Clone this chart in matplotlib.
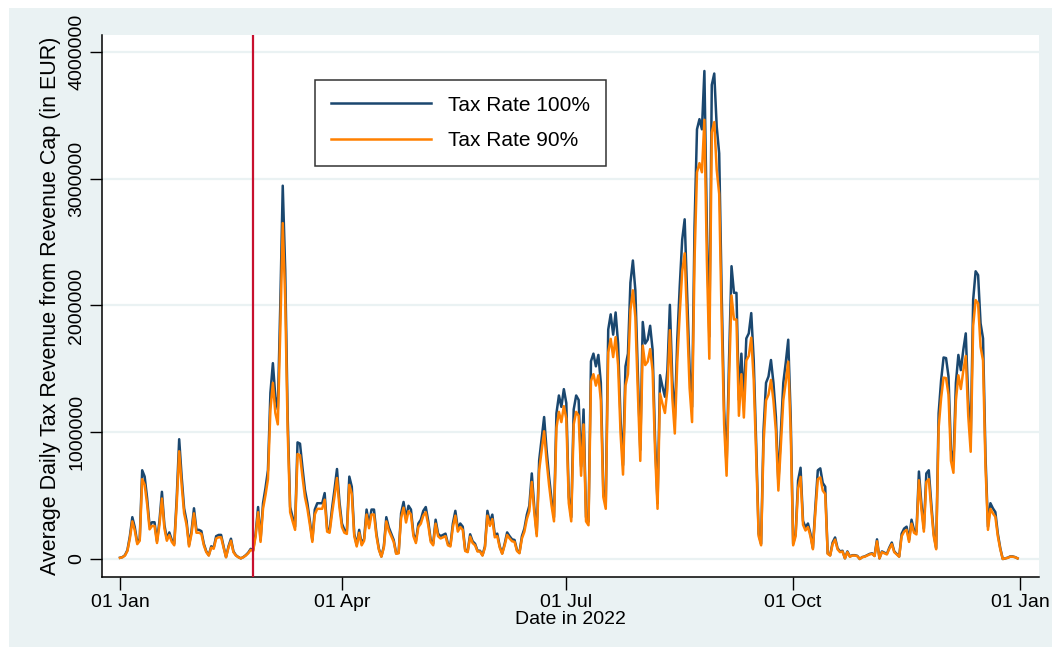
import matplotlib

matplotlib.use("Agg")
import matplotlib.dates as mdates
import matplotlib.pyplot as plt
import pandas as pd
from matplotlib.patches import Rectangle

# daily revenue, thousands of EUR, 1 Jan .. 31 Dec 2022
rate_100 = [
    10, 15, 30, 70, 180, 330, 250, 130, 160, 700,             # 0
    650, 480, 260, 290, 290, 140, 300, 530, 270, 160,        # 10
    210, 150, 120, 480, 945, 650, 400, 300, 110, 220,        # 20
    400, 230, 230, 220, 120, 60, 30, 100, 90, 180,           # 30
    190, 190, 100, 15, 100, 160, 60, 30, 15, 5,              # 40
    15, 30, 50, 80, 70, 200, 410, 150, 440, 560,             # 50
    700, 1310, 1545, 1280, 1180, 2000, 2945, 2280, 1120, 410,  # 60
    330, 255, 920, 910, 720, 545, 440, 300, 150, 390,        # 70
    440, 440, 440, 520, 240, 230, 400, 550, 710, 450,        # 80
    280, 230, 220, 650, 570, 200, 110, 230, 120, 160,        # 90
    390, 270, 390, 390, 200, 80, 20, 100, 330, 250,          # 100
    200, 150, 45, 50, 360, 450, 320, 420, 390, 200,          # 110
    140, 280, 310, 380, 410, 300, 150, 120, 310, 200,        # 120
    180, 190, 200, 120, 110, 280, 380, 240, 280, 255,        # 130
    70, 60, 195, 140, 120, 65, 65, 30, 100, 380,             # 140
    290, 350, 190, 200, 100, 45, 120, 210, 180, 155,         # 150
    150, 70, 50, 180, 240, 350, 420, 675, 410, 200,          # 160
    780, 950, 1120, 860, 650, 470, 330, 1150, 1290, 1200,    # 170
    1340, 1230, 490, 330, 1180, 1290, 1255, 730, 1180, 330,  # 180
    295, 1560, 1620, 1520, 1610, 1390, 545, 440, 1810, 1930,  # 190
    1770, 1945, 1700, 1100, 740, 1520, 1620, 2180, 2355, 2120,  # 200
    1470, 860, 1870, 1700, 1730, 1840, 1650, 940, 440, 1450,  # 210
    1360, 1280, 1490, 2005, 1410, 1100, 1730, 2150, 2520, 2680,  # 220
    2100, 1500, 1200, 2620, 3390, 3470, 3390, 3850, 2620, 1755,  # 230
    3740, 3830, 3410, 3200, 2100, 1180, 730, 1570, 2310, 2100,  # 240
    2100, 1255, 1620, 1240, 1740, 1780, 1940, 1570, 910, 200,  # 250
    120, 1020, 1390, 1440, 1570, 1390, 1120, 600, 1000, 1390,  # 260
    1550, 1730, 1120, 120, 200, 620, 720, 300, 250, 280,     # 270
    200, 85, 410, 700, 715, 600, 570, 45, 30, 130,           # 280
    170, 85, 60, 65, 5, 60, 20, 30, 30, 25,                  # 290
    0, 15, 20, 30, 40, 45, 25, 155, 5, 60,                   # 300
    50, 40, 90, 130, 60, 40, 20, 200, 240, 255,              # 310
    150, 310, 230, 215, 690, 440, 240, 675, 700, 440,        # 320
    200, 85, 1150, 1410, 1590, 1585, 1440, 860, 755, 1390,   # 330
    1610, 1490, 1650, 1780, 1255, 940, 2045, 2270, 2240, 1860,  # 340
    1740, 810, 255, 440, 400, 370, 200, 85, 0, 5,            # 350
    10, 20, 20, 15, 5,                                       # 360
]
rate_90 = [
    9, 14, 27, 63, 162, 297, 225, 117, 144, 630,
    585, 432, 234, 261, 261, 126, 270, 477, 243, 144,
    189, 135, 108, 432, 850, 585, 360, 270, 99, 198,
    360, 207, 207, 198, 108, 54, 27, 90, 81, 162,
    171, 171, 90, 14, 90, 144, 54, 27, 14, 5,
    14, 27, 45, 72, 63, 180, 369, 135, 396, 504,
    630, 1179, 1390, 1152, 1062, 1800, 2650, 2052, 1008, 369,
    297, 230, 828, 819, 648, 490, 396, 270, 135, 351,
    396, 396, 396, 468, 216, 207, 360, 495, 639, 405,
    252, 207, 198, 585, 513, 180, 99, 207, 108, 144,
    351, 243, 351, 351, 180, 72, 18, 90, 297, 225,
    180, 135, 41, 45, 324, 405, 288, 378, 351, 180,
    126, 252, 279, 342, 369, 270, 135, 108, 279, 180,
    162, 171, 180, 108, 99, 252, 342, 216, 252, 230,
    63, 54, 176, 126, 108, 59, 59, 27, 90, 342,
    261, 315, 171, 180, 90, 41, 108, 189, 162, 140,
    135, 63, 45, 162, 216, 315, 378, 608, 369, 180,
    702, 855, 1008, 774, 585, 423, 297, 1035, 1161, 1080,
    1206, 1107, 441, 297, 1062, 1161, 1130, 657, 1062, 297,
    266, 1404, 1458, 1368, 1449, 1251, 490, 396, 1629, 1737,
    1593, 1750, 1530, 990, 666, 1368, 1458, 1962, 2120, 1908,
    1323, 774, 1683, 1530, 1557, 1656, 1485, 846, 396, 1305,
    1224, 1152, 1341, 1805, 1269, 990, 1557, 1935, 2268, 2412,
    1890, 1350, 1080, 2358, 3051, 3123, 3051, 3465, 2358, 1580,
    3366, 3447, 3069, 2880, 1890, 1062, 657, 1413, 2079, 1890,
    1890, 1130, 1458, 1116, 1566, 1602, 1746, 1413, 819, 180,
    108, 918, 1251, 1296, 1413, 1251, 1008, 540, 900, 1251,
    1395, 1557, 1008, 108, 180, 558, 648, 270, 225, 252,
    180, 77, 369, 630, 644, 540, 513, 41, 27, 117,
    153, 77, 54, 59, 5, 54, 18, 27, 27, 23,
    0, 14, 18, 27, 36, 41, 23, 140, 5, 54,
    45, 36, 81, 117, 54, 36, 18, 180, 216, 230,
    135, 279, 207, 194, 621, 396, 216, 608, 630, 396,
    180, 77, 1035, 1269, 1431, 1427, 1296, 774, 680, 1251,
    1449, 1341, 1485, 1602, 1130, 846, 1840, 2043, 2016, 1674,
    1566, 729, 230, 396, 360, 333, 180, 77, 0, 5,
    9, 18, 18, 14, 5,
]
y_ticks = [0, 1000000, 2000000, 3000000, 4000000]
x_ticks = ["2022-01-01", "2022-04-01", "2022-07-01", "2022-10-01", "2023-01-01"]
invasion = "2022-02-24"

BG = "#eaf2f3"
NAVY = "#1a476f"
ORANGE = "#ff8000"

dates = pd.date_range("2022-01-01", periods=len(rate_100), freq="D")
s100 = pd.Series(rate_100, index=dates) * 1000
s90 = pd.Series(rate_90, index=dates[:len(rate_90)]) * 1000

plt.rcParams["font.family"] = ["Liberation Sans", "DejaVu Sans"]
fig = plt.figure(figsize=(10.52, 6.47), dpi=100)
fig.patches.append(Rectangle((9 / 1052, 0), 1, 1 - 8 / 647, transform=fig.transFigure,
                             facecolor=BG, edgecolor="none", zorder=-10))
ax = fig.add_axes([102 / 1052, 70 / 647, 937 / 1052, 542 / 647])
ax.set_facecolor("white")

for t in y_ticks:
    ax.axhline(t, color=BG, lw=1.6, zorder=0)
ax.plot(s100.index, s100.values, color=NAVY, lw=1.8, label="Tax Rate 100%", zorder=3)
ax.plot(s90.index, s90.values, color=ORANGE, lw=1.8, label="Tax Rate 90%", zorder=4)
ax.axvline(pd.Timestamp(invasion), color="#c8102e", lw=1.6, zorder=5)

start = pd.Timestamp("2022-01-01")
ax.set_xlim(start - pd.Timedelta(days=7.3), start + pd.Timedelta(days=372.7))
ax.set_ylim(-142000, 4134000)

ax.set_xticks([pd.Timestamp(d) for d in x_ticks])
ax.xaxis.set_major_formatter(mdates.DateFormatter("%d %b"))
ax.set_yticks(y_ticks)
ax.set_yticklabels([str(t) for t in y_ticks], rotation=90, va="center")
ax.tick_params(axis="both", labelsize=14, length=9, width=1, direction="out", pad=3)
ax.set_xlabel("Date in 2022", fontsize=14, labelpad=0)
ax.set_ylabel("Average Daily Tax Revenue from Revenue Cap (in EUR)", fontsize=15.5, labelpad=5)

for side in ("top", "right"):
    ax.spines[side].set_visible(False)
for side in ("left", "bottom"):
    ax.spines[side].set_linewidth(1.1)

leg = ax.legend(loc="upper left", bbox_to_anchor=(213 / 937, 1 - 45 / 542), fontsize=15,
                frameon=True, fancybox=False, edgecolor="black", handlelength=4.8,
                handletextpad=0.85, borderpad=0.75, labelspacing=0.8, borderaxespad=0)
leg.get_frame().set_linewidth(1.1)

fig.savefig("out.png", dpi=100, facecolor="white")
